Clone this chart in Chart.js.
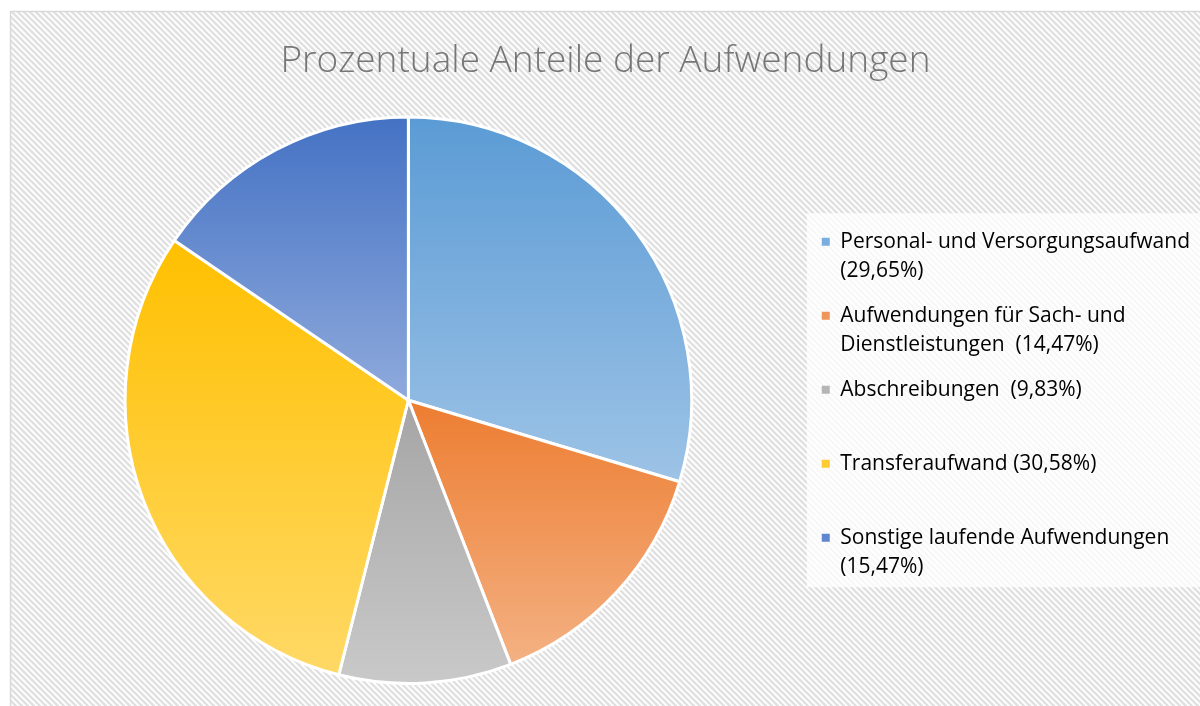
<!DOCTYPE html>
<html>
<head>
<meta charset="utf-8">
<script src="https://cdn.jsdelivr.net/npm/chart.js@4.4.0/dist/chart.umd.min.js"></script>
<style>
html, body { margin: 0; padding: 0; background: #fff; }
#wrap { width: 1200px; height: 706px; }
</style>
</head>
<body>
<div id="wrap"><canvas id="myChart" width="1200" height="706"></canvas></div>
<script>
const labels = [
  ['Personal- und Versorgungsaufwand', '(29,65%)'],
  ['Aufwendungen für Sach- und', 'Dienstleistungen  (14,47%)'],
  ['Abschreibungen  (9,83%)', ''],
  ['Transferaufwand (30,58%)', ''],
  ['Sonstige laufende Aufwendungen', '(15,47%)']
];
const values = [29.65, 14.47, 9.83, 30.58, 15.47];
const topColors = ['#5b9bd5', '#ed7d31', '#a5a5a5', '#ffc000', '#4472c4'];
const bottomColors = ['#9dc3e6', '#f4b183', '#c9c9c9', '#ffd966', '#8faadc'];
const legendColors = ['#7aaee0', '#f0955a', '#b5b5b5', '#ffcb33', '#5f86cf'];

const LEGEND_LINE = 29;
const LEGEND_PAD = 16;

const canvas = document.getElementById('myChart');
const ctx = canvas.getContext('2d');

// striped background + frame, like the office chart area
const tile = document.createElement('canvas');
tile.width = 6;
tile.height = 6;
const tctx = tile.getContext('2d');
tctx.fillStyle = '#ffffff';
tctx.fillRect(0, 0, 6, 6);
tctx.strokeStyle = '#e0e0e0';
tctx.lineWidth = 2.3;
tctx.beginPath();
tctx.moveTo(-1, -1); tctx.lineTo(7, 7);
tctx.moveTo(-4, 2); tctx.lineTo(4, 10);
tctx.moveTo(2, -4); tctx.lineTo(10, 4);
tctx.stroke();

const backgroundPlugin = {
  id: 'background',
  afterLayout(chart) {
    // legend column height for multi-line labels, so the block is really centred
    const lg = chart.legend;
    if (lg && lg.columnSizes && lg.columnSizes.length) {
      const h = labels.reduce((s, t) => s + t.length * LEGEND_LINE, 0) + LEGEND_PAD * (labels.length - 1);
      lg.columnSizes[0].height = h;
    }
  },
  beforeDraw(chart) {
    const c = chart.ctx;
    c.save();
    c.fillStyle = '#ffffff';
    c.fillRect(0, 0, chart.width, chart.height);
    c.fillStyle = c.createPattern(tile, 'repeat');
    c.fillRect(11, 12, chart.width - 11, chart.height - 12);
    c.strokeStyle = '#d9d9d9';
    c.lineWidth = 1.5;
    c.strokeRect(10.5, 11.5, chart.width + 10, chart.height + 10);
    // legend box
    const boxes = chart.legend.legendHitBoxes;
    if (boxes && boxes.length) {
      const first = boxes[0];
      const last = boxes[boxes.length - 1];
      const bottom = last.top + labels[labels.length - 1].length * LEGEND_LINE + 2;
      c.fillStyle = 'rgba(255,255,255,0.75)';
      c.fillRect(first.left - 15, first.top - 18, chart.width, bottom - first.top + 18);
    }
    c.restore();
  }
};

// vertical gradient per slice, top darker, bottom lighter
const gradientPlugin = {
  id: 'sliceGradient',
  beforeDatasetsDraw(chart) {
    const meta = chart.getDatasetMeta(0);
    meta.data.forEach((arc, i) => {
      const p = arc.getProps(['x', 'y', 'startAngle', 'endAngle', 'outerRadius'], true);
      const ys = [p.y, p.y + p.outerRadius * Math.sin(p.startAngle), p.y + p.outerRadius * Math.sin(p.endAngle)];
      let minY = Math.min(...ys);
      let maxY = Math.max(...ys);
      const inRange = a => a >= p.startAngle && a <= p.endAngle;
      if (inRange(Math.PI / 2)) maxY = p.y + p.outerRadius;
      if (inRange(-Math.PI / 2) || inRange(3 * Math.PI / 2)) minY = p.y - p.outerRadius;
      const g = chart.ctx.createLinearGradient(0, minY, 0, maxY);
      g.addColorStop(0, topColors[i]);
      g.addColorStop(1, bottomColors[i]);
      arc.options.backgroundColor = g;
    });
  }
};

const data = {
  labels: labels,
  datasets: [{
    data: values,
    backgroundColor: (c) => topColors[c.dataIndex],
    borderColor: '#ffffff',
    borderWidth: 3
  }]
};

const myChart = new Chart(ctx, {
  type: 'pie',
  data: data,
  plugins: [backgroundPlugin, gradientPlugin],
  options: {
    responsive: false,
    animation: false,
    devicePixelRatio: 1,
    layout: { padding: { left: 11, right: 0, top: 0, bottom: 21 } },
    plugins: {
      tooltip: { enabled: false },
      title: {
        display: true,
        text: 'Prozentuale Anteile der Aufwendungen',
        color: '#767676',
        font: { family: 'Open Sans', size: 37, weight: 300 },
        padding: { top: 39, bottom: 32 }
      },
      legend: {
        position: 'right',
        align: 'center',
        fullSize: false,
        labels: {
          boxWidth: 8,
          boxHeight: 8,
          padding: LEGEND_PAD,
          color: '#595959',
          font: { family: 'Open Sans', size: 21, lineHeight: LEGEND_LINE + 'px' },
          generateLabels(chart) {
            return labels.map((t, i) => ({
              text: t,
              fillStyle: legendColors[i],
              strokeStyle: legendColors[i],
              lineWidth: 0,
              hidden: false,
              index: i
            }));
          }
        }
      }
    }
  }
});
</script>
</body>
</html>
